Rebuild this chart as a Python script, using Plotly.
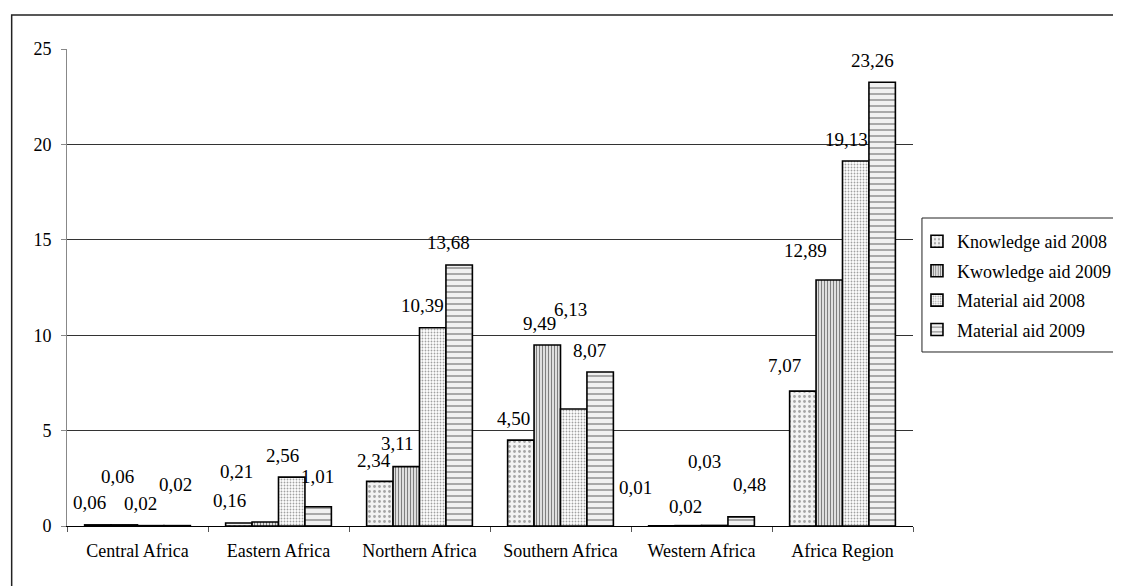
import plotly.graph_objects as go

regions = ['Central Africa', 'Eastern Africa', 'Northern Africa',
           'Southern Africa', 'Western Africa', 'Africa Region']

knowledge_2008 = [0.06, 0.16, 2.34, 4.50, 0.01, 7.07]
knowledge_2009 = [0.06, 0.21, 3.11, 9.49, 0.02, 12.89]
material_2008 = [0.02, 2.56, 10.39, 6.13, 0.03, 19.13]
material_2009 = [0.02, 1.01, 13.68, 8.07, 0.48, 23.26]

series_names = ['Knowledge aid 2008', 'Kwowledge aid 2009',
                'Material aid 2008', 'Material aid 2009']
series_values = [knowledge_2008, knowledge_2009, material_2008, material_2009]

# pixel nudges of the value labels (dx, dy up), as the labels sit in the original
label_nudges = [
    [(-8, 22), (-9, 22), (-6, 21), (-7, 22), (-26, 38), (-18, 26)],
    [(-7, 48), (-29, 50), (-9, 23), (-8, 21), (-3, 19), (-24, 30)],
    [(-10, 22), (-9, 22), (-10, 22), (-3, 100), (-10, 64), (-9, 22)],
    [(-2, 41), (-1, 30), (-11, 22), (-11, 22), (8, 32), (-10, 22)],
]

patterns = [
    dict(shape='.', fgcolor='#555555', bgcolor='#f2f2f2', size=5, solidity=0.25),
    dict(shape='|', fgcolor='#000000', bgcolor='#ffffff', size=3, solidity=0.5),
    dict(shape='.', fgcolor='#444444', bgcolor='#ffffff', size=3, solidity=0.3),
    dict(shape='-', fgcolor='#000000', bgcolor='#f0f0f0', size=6, solidity=0.2),
]

FONT = 'Liberation Serif'
BARGAP = 0.25
bar_w = (1 - BARGAP) / len(series_values)

fig = go.Figure()
for name, vals, pat in zip(series_names, series_values, patterns):
    fig.add_trace(go.Bar(
        x=regions,
        y=vals,
        name=name,
        legendgroup=name,
        marker=dict(color=pat['bgcolor'], pattern=pat,
                    line=dict(color='black', width=1.6)),
    ))

annotations = []
for i, vals in enumerate(series_values):
    for j, v in enumerate(vals):
        dx, dy = label_nudges[i][j]
        annotations.append(dict(
            x=j + (i - 1.5) * bar_w, y=v, xref='x', yref='y',
            text=f'{v:.2f}'.replace('.', ','),
            showarrow=False, xanchor='center', yanchor='middle',
            xshift=dx, yshift=dy,
            font=dict(family=FONT, size=19, color='black'),
        ))

fig.update_layout(
    width=1121, height=586,
    margin=dict(l=59, r=216, t=41, b=68, autoexpand=False),
    paper_bgcolor='white', plot_bgcolor='white',
    barmode='group', bargap=BARGAP, bargroupgap=0,
    font=dict(family=FONT, size=18, color='black'),
    annotations=annotations,
    legend=dict(
        x=1.0047, y=0.635, xanchor='left', yanchor='top',
        borderwidth=0, bgcolor='rgba(0,0,0,0)',
        font=dict(family=FONT, size=18, color='black'),
        traceorder='grouped', tracegroupgap=3,
    ),
    xaxis=dict(
        showline=True, linecolor='black', linewidth=1,
        ticks='outside', tickson='boundaries', ticklen=5, tickcolor='#555555',
        ticklabelstandoff=8,
        showgrid=False,
    ),
    yaxis=dict(
        range=[0, 25], dtick=5,
        showline=True, linecolor='#888888', linewidth=1,
        ticks='outside', ticklen=5, tickcolor='#888888',
        ticklabelstandoff=6,
        showgrid=True, gridcolor='#333333', gridwidth=1,
        zeroline=False,
    ),
    shapes=[
        # outer chart frame
        dict(type='rect', xref='paper', yref='paper',
             x0=-0.0654, x1=1.6, y0=-0.6, y1=1.0713,
             line=dict(color='#222222', width=1.5), fillcolor='rgba(0,0,0,0)',
             layer='below'),
        # legend box
        dict(type='rect', xref='paper', yref='paper',
             x0=1.0106, x1=1.4, y0=0.3648, y1=0.6457,
             line=dict(color='#222222', width=1), fillcolor='white',
             layer='below'),
    ],
)

fig.write_html('out.html')
